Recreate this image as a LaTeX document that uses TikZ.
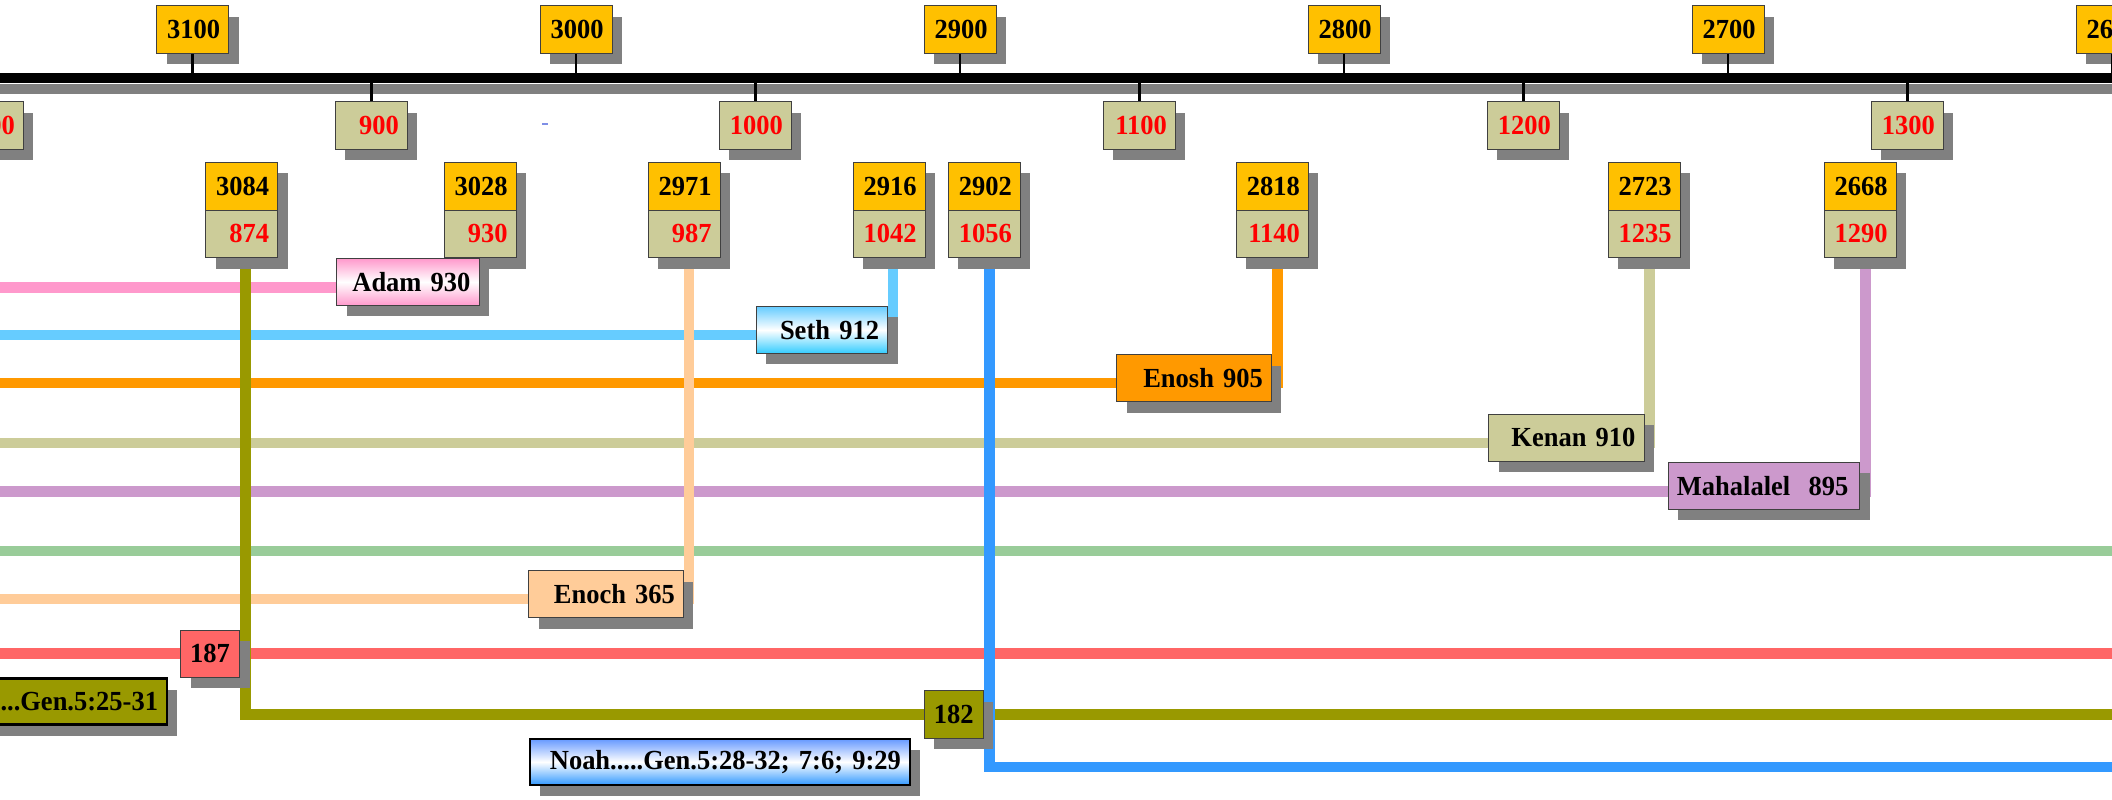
\documentclass[tikz,border=0pt]{standalone}
\usepackage{fontspec}
\setmainfont{Liberation Serif}[FakeStretch=0.96]
\usetikzlibrary{shadows,backgrounds}
\definecolor{bcyellow}{HTML}{FFC000}
\definecolor{amkhaki}{HTML}{CCCC99}
\definecolor{amred}{HTML}{FF0000}
\definecolor{shadowgray}{HTML}{808080}
\definecolor{adampink}{HTML}{FF99CC}
\definecolor{sethblue}{HTML}{66CCFF}
\definecolor{sethdeep}{HTML}{33CCFF}
\definecolor{enoshorange}{HTML}{FF9900}
\definecolor{mahalalellilac}{HTML}{CC99CC}
\definecolor{jaredgreen}{HTML}{99CC99}
\definecolor{enochpeach}{HTML}{FFCC99}
\definecolor{methred}{HTML}{FF6666}
\definecolor{lamecholive}{HTML}{999900}
\definecolor{noahblue}{HTML}{3399FF}
\definecolor{noahtop}{HTML}{6699FF}
\definecolor{dashblue}{HTML}{7F8FE6}
\tikzset{
	every node/.style={font=\fontsize{27.6}{30}\selectfont\bfseries},
	boxshadow/.style={drop shadow={shadow xshift=10pt, shadow yshift=-11pt, fill=shadowgray, opacity=1}},
	databox/.style={boxshadow, draw=black!75, line width=0.9pt, minimum width=72pt, minimum height=47.6pt, inner sep=0pt, text width=55pt, align=right},
	bcbox/.style={databox, fill=bcyellow},
	ambox/.style={databox, fill=amkhaki, text=amred},
	namebox/.style={boxshadow, draw=black!75, line width=0.9pt, minimum height=47pt, inner xsep=8.5pt, inner ysep=0pt, align=right},
	agebox/.style={boxshadow, draw=black!75, line width=0.9pt, minimum width=59pt, minimum height=47.4pt, inner sep=0pt},
	refbox/.style={boxshadow, draw=black, line width=2.6pt, minimum height=46pt, inner xsep=9pt, inner ysep=0pt, align=right},
	tick/.style={line width=2.6pt},
	life/.style={line width=10.5pt}
}
\begin{document}
\begin{tikzpicture}[x=1pt,y=-1pt]
	\useasboundingbox (0,0) rectangle (2112,800);
	\coordinate (W) at (-30,0);
	\coordinate (E) at (2140,0);
	% timeline bar
	\node[boxshadow, fill=black, minimum width=2300pt, minimum height=10pt, inner sep=0pt] (bar) at (1056,77.7) {};
	\foreach \yr/\x in {3100/192.6, 3000/576, 2900/960, 2800/1344, 2700/1728, 2600/2112}{
		\node[bcbox] (bc\yr) at (\x,29.7) {\yr};
		\draw[tick] (bc\yr.south) -- (bc\yr.south |- bar.center);
	}
	\foreach \yr/\x in {800/-12.6, 900/371.4, 1000/755.4, 1100/1139.4, 1200/1523.4, 1300/1907.4}{
		\node[ambox] (am\yr) at (\x,125.5) {\yr};
		\draw[tick] (am\yr.north |- bar.center) -- (am\yr.north);
	}
	\fill[dashblue] (542.4,122.7) rectangle (548.2,124.7);
	% birth / death pairs
	\foreach \bc/\am/\x in {3084/874/241.5, 3028/930/480.1, 2971/987/684.1, 2916/1042/889.2, 2902/1056/984.4, 2818/1140/1272.3, 2723/1235/1644, 2668/1290/1860}{
		\node[bcbox] (b\bc) at (\x,186.15) {\bc};
		\node[ambox] (a\am) at (\x,233.85) {\am};
	}
	% names
	\node[namebox, text width=125.4pt, top color=adampink, bottom color=adampink, middle color=white] (adam) at (407.8,281.9) {Adam 930};
	\node[namebox, text width=114.2pt, top color=sethblue, bottom color=sethdeep, middle color=white] (seth) at (821.9,329.9) {Seth 912};
	\node[namebox, text width=137.9pt, fill=enoshorange] (enosh) at (1194,378) {Enosh 905};
	\node[namebox, text width=138.3pt, fill=amkhaki] (kenan) at (1566.3,437.9) {Kenan 910};
	\node[namebox, text width=174.2pt, fill=mahalalellilac, align=left] (mahalalel) at (1764,485.9) {Mahalalel~~895};
	\node[namebox, text width=137.9pt, fill=enochpeach] (enoch) at (606,594) {Enoch 365};
	\node[agebox, fill=methred] (m187) at (210,653.7) {187};
	\node[agebox, fill=lamecholive] (l182) at (953.8,714.5) {182};
	\node[refbox, text width=176pt, fill=lamecholive] (lamech) at (70,701.7) {...Gen.5:25-31};
	\node[refbox, text width=362pt, top color=noahtop, bottom color=noahblue, middle color=white] (noah) at (719.9,761.9) {Noah.....Gen.5:28-32; 7:6; 9:29};
	% life lines
	\begin{pgfonlayer}{background}
		\draw[life, adampink] ([yshift=-5.6pt]adam.west) -- ([yshift=-5.6pt]adam.west -| W);
		\draw[life, sethblue] ([yshift=-5pt]seth.west) -- ([yshift=-5pt]seth.west -| W);
		\draw[life, enoshorange] ([yshift=-5pt]enosh.west) -- ([yshift=-5pt]enosh.west -| W);
		\draw[life, amkhaki] ([yshift=-5pt]kenan.west) -- ([yshift=-5pt]kenan.west -| W);
		\draw[life, mahalalellilac] ([yshift=-5.5pt]mahalalel.west) -- ([yshift=-5.5pt]mahalalel.west -| W);
		\draw[life, jaredgreen] (W |- 0,551) -- (E |- 0,551);
		\draw[life, enochpeach] ([yshift=-5pt]enoch.west) -- ([yshift=-5pt]enoch.west -| W);
		\draw[life, methred] (W |- m187) -- (E |- m187);
		\draw[life, sethblue] ([xshift=4pt]a1042.south) |- ([yshift=-5pt]seth.east);
		\draw[life, enoshorange] ([xshift=5pt]a1140.south) |- ([yshift=-5pt]enosh.east);
		\draw[life, amkhaki] ([xshift=5.5pt]a1235.south) |- ([yshift=-5pt]kenan.east);
		\draw[life, mahalalellilac] ([xshift=5.6pt]a1290.south) |- ([yshift=-5.5pt]mahalalel.east);
		\draw[life, enochpeach] ([xshift=5pt]a987.south) |- ([yshift=-5pt]enoch.east);
		\draw[life, lamecholive] ([xshift=4pt]a874.south) |- (E |- l182);
		\draw[life, noahblue] ([xshift=5pt]a1056.south) |- ([yshift=-5pt]noah.east -| E);
	\end{pgfonlayer}
\end{tikzpicture}
\end{document}
